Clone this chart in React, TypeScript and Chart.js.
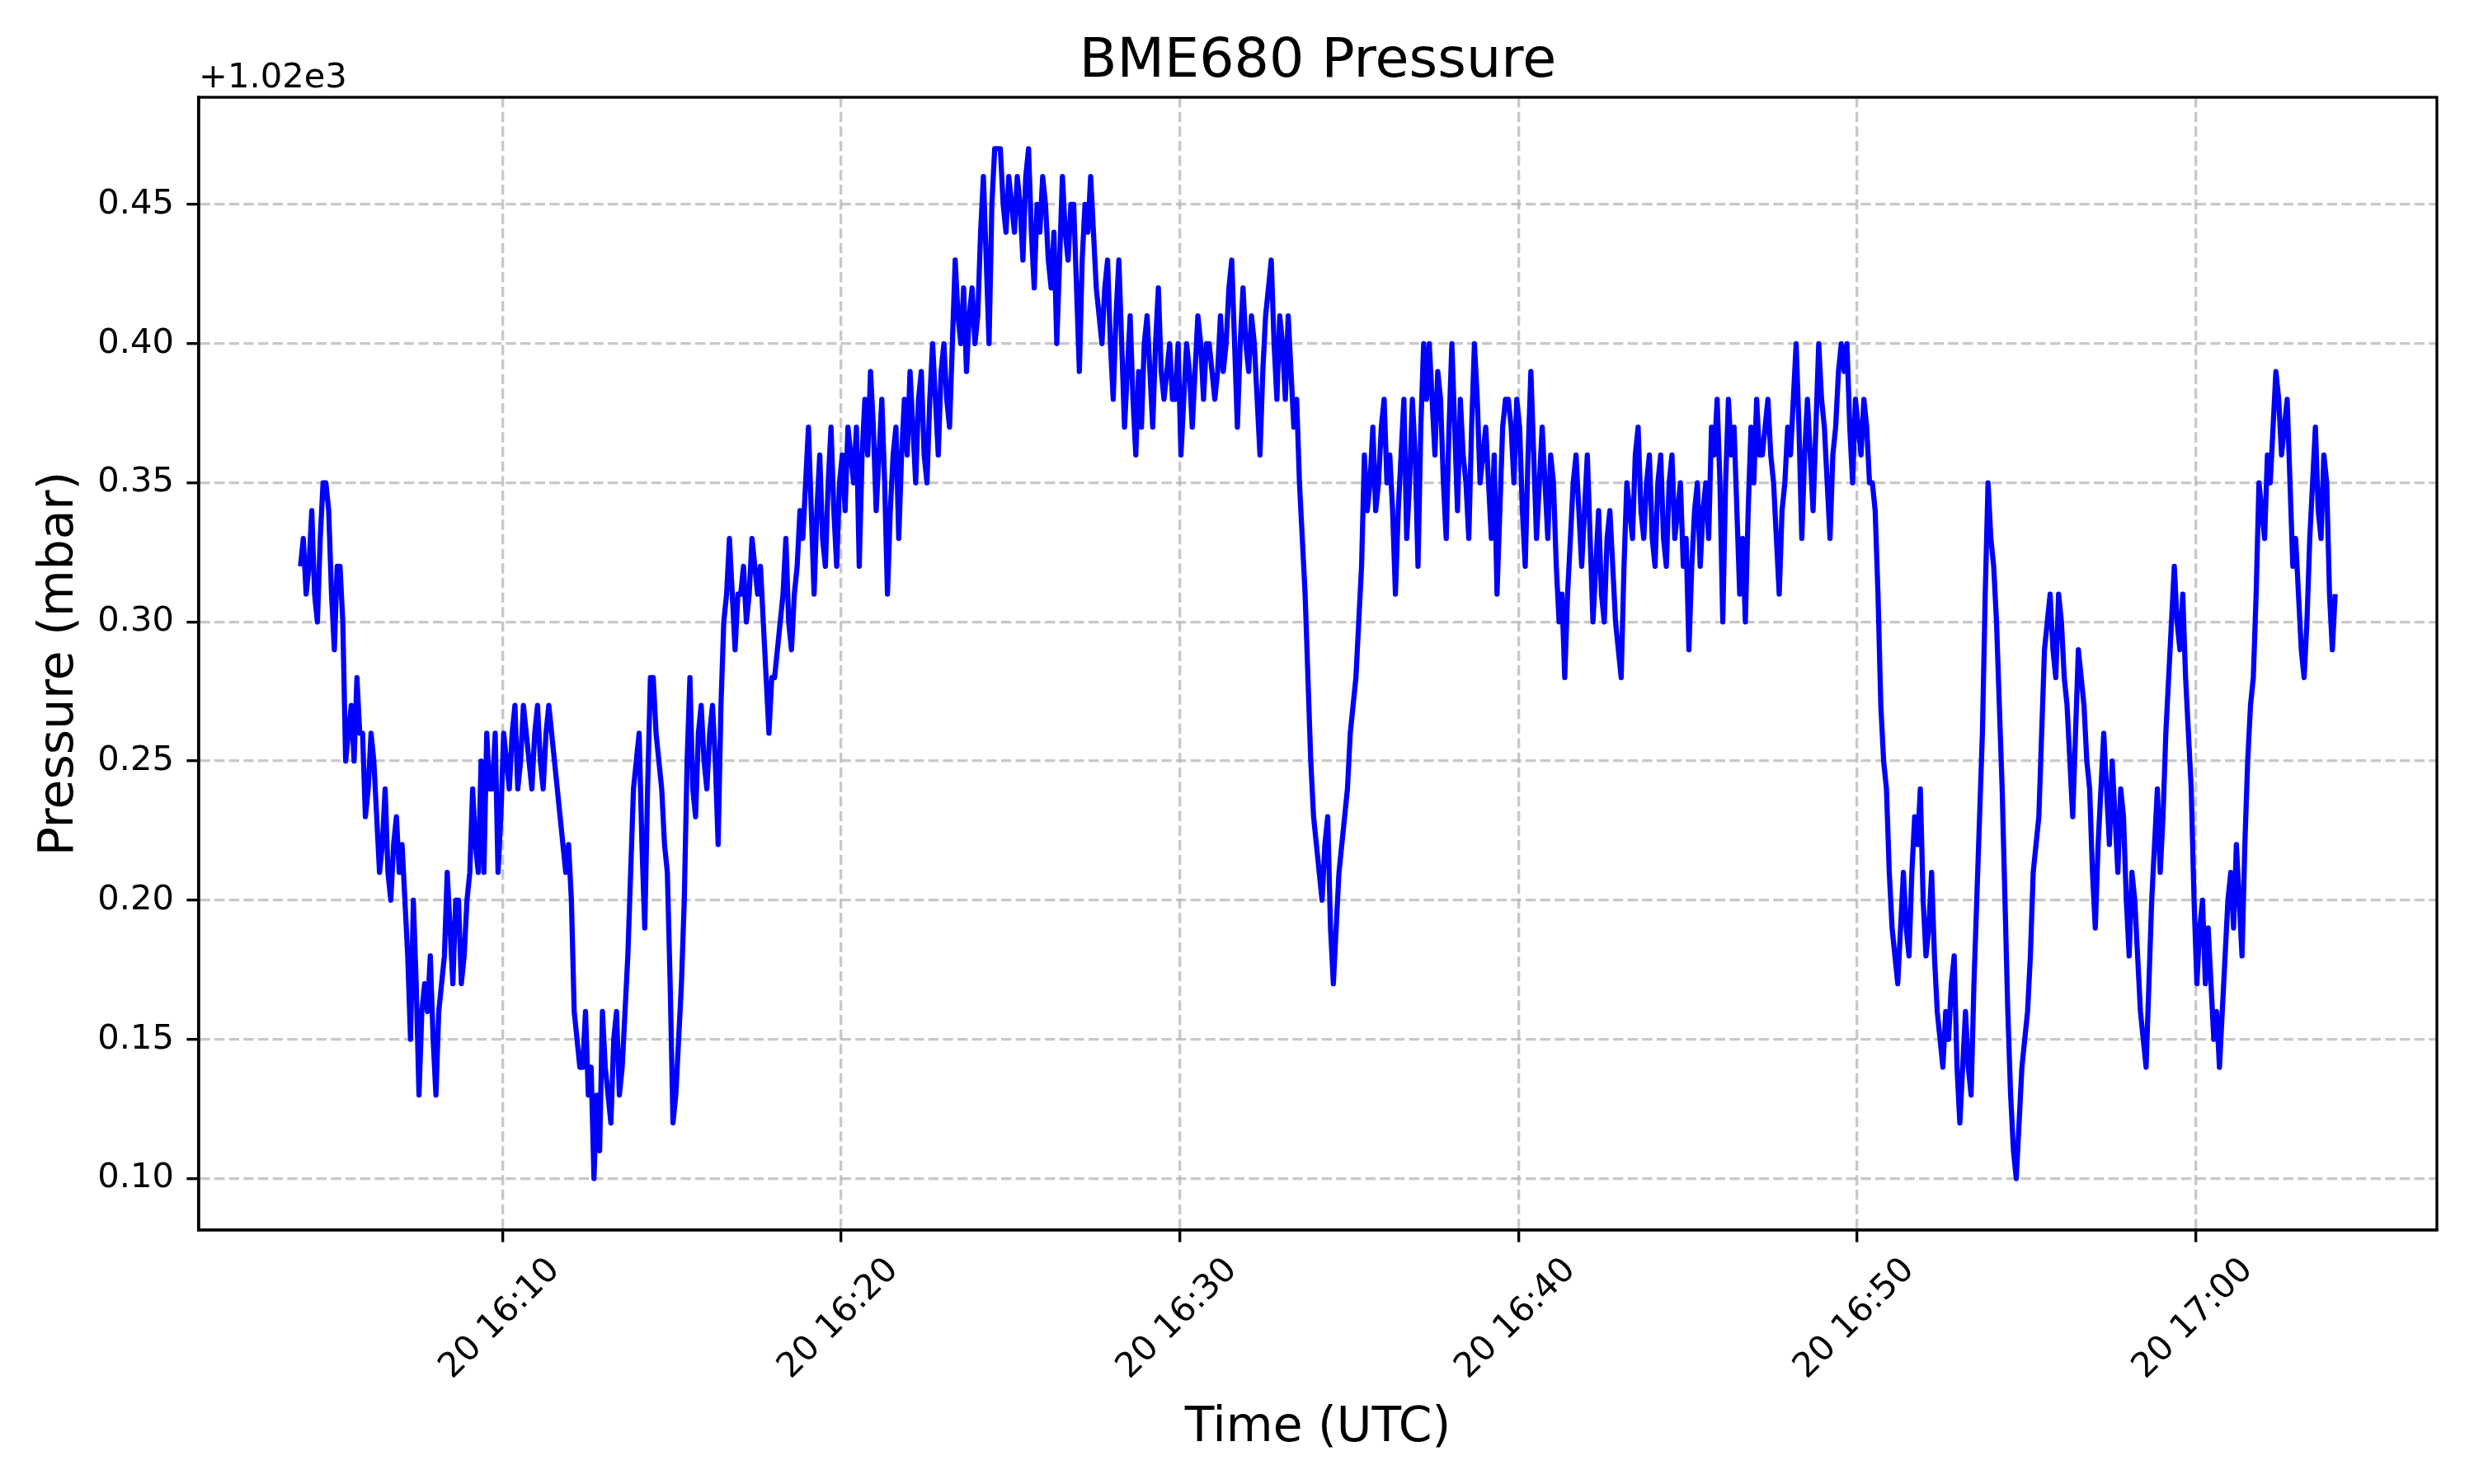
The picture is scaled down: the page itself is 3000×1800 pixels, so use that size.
import { useEffect, useRef } from 'react';
import { Chart, registerables } from 'chart.js';

Chart.register(...registerables);

// BME680 pressure, one reading every 5 s starting 16:04:02 UTC on the 20th.
// Stored as hundredths of a mbar above 1020 mbar (sensor resolution is 0.01).
const pressureHundredths = [
  // 16:04 - 16:13
  32, 33, 31, 32, 34, 31, 30, 33, 35, 35, 34, 31, 29, 32, 32, 30, 25, 26, 27, 25,
  28, 26, 26, 23, 24, 26, 25, 23, 21, 22, 24, 21, 20, 22, 23, 21, 22, 20, 18, 15,
  20, 17, 13, 16, 17, 16, 18, 15, 13, 16, 17, 18, 21, 19, 17, 20, 20, 17, 18, 20,
  21, 24, 22, 21, 25, 21, 26, 24, 24, 26, 21, 23, 26, 25, 24, 26, 27, 24, 25, 27,
  26, 25, 24, 26, 27, 25, 24, 26, 27, 26, 25, 24, 23, 22, 21, 22, 20, 16, 15, 14,
  14, 16, 13, 14, 10, 13, 11, 16,
  // 16:13 - 16:24
  14, 13, 12, 15, 16, 13, 14, 16, 18, 21, 24, 25, 26, 22, 19, 24, 28, 28, 26, 25,
  24, 22, 21, 17, 12, 13, 15, 17, 20, 25, 28, 24, 23, 26, 27, 25, 24, 26, 27, 25,
  22, 27, 30, 31, 33, 31, 29, 31, 31, 32, 30, 31, 33, 32, 31, 32, 30, 28, 26, 28,
  28, 29, 30, 31, 33, 30, 29, 31, 32, 34, 33, 35, 37, 34, 31, 34, 36, 33, 32, 35,
  37, 34, 32, 35, 36, 34, 37, 36, 35, 37, 32, 36, 38, 36, 39, 37, 34, 36, 38, 35,
  31, 34, 36, 37, 33, 36, 38, 36, 39, 37, 35, 38, 39, 36, 35, 38, 40, 38, 36, 39,
  40, 38, 37, 40, 43, 41, 40, 42, 39, 41, 42, 40, 41, 44, 46, 43, 40, 45,
  // 16:24 - 16:35
  47, 47, 47, 45, 44, 46, 45, 44, 46, 45, 43, 46, 47, 44, 42, 45, 44, 46, 45, 43,
  42, 44, 40, 43, 46, 44, 43, 45, 45, 42, 39, 43, 45, 44, 46, 44, 42, 41, 40, 42,
  43, 40, 38, 41, 43, 40, 37, 39, 41, 38, 36, 39, 37, 40, 41, 39, 37, 40, 42, 39,
  38, 39, 40, 38, 38, 40, 36, 38, 40, 39, 37, 39, 41, 40, 38, 40, 40, 39, 38, 39,
  41, 39, 40, 42, 43, 40, 37, 40, 42, 40, 39, 41, 40, 38, 36, 39, 41, 42, 43, 40,
  38, 41, 40, 38, 41, 39, 37, 38, 35, 33, 31, 28, 25, 23, 22, 21, 20, 22, 23, 19,
  17, 19, 21, 22, 23, 24, 26, 27, 28, 30,
  // 16:35 - 16:46
  32, 36, 34, 35, 37, 34, 35, 37, 38, 35, 36, 34, 31, 34, 36, 38, 33, 35, 38, 36,
  32, 37, 40, 38, 40, 38, 36, 39, 38, 35, 33, 37, 40, 37, 34, 38, 36, 35, 33, 37,
  40, 38, 35, 36, 37, 35, 33, 36, 31, 34, 37, 38, 38, 37, 35, 38, 37, 34, 32, 36,
  39, 36, 33, 35, 37, 35, 33, 36, 35, 32, 30, 31, 28, 31, 33, 35, 36, 34, 32, 34,
  36, 33, 30, 32, 34, 31, 30, 33, 34, 32, 30, 29, 28, 32, 35, 34, 33, 36, 37, 34,
  33, 35, 36, 33, 32, 35, 36, 33, 32, 35, 36, 33, 34, 35, 32, 33, 29, 32, 34, 35,
  32, 34, 35, 33, 37, 36, 38, 35, 30, 35, 38, 36,
  // 16:46 - 16:57
  37, 34, 31, 33, 30, 34, 37, 35, 38, 36, 36, 37, 38, 36, 35, 33, 31, 34, 35, 37,
  36, 38, 40, 37, 33, 36, 38, 36, 34, 37, 40, 38, 37, 35, 33, 36, 37, 39, 40, 39,
  40, 37, 35, 38, 37, 36, 38, 37, 35, 35, 34, 31, 27, 25, 24, 21, 19, 18, 17, 19,
  21, 19, 18, 21, 23, 22, 24, 20, 18, 19, 21, 18, 16, 15, 14, 16, 15, 17, 18, 14,
  12, 14, 16, 14, 13, 17, 20, 23, 26, 31, 35, 33, 32, 30, 27, 24, 20, 16, 13, 11,
  10, 12, 14, 15, 16, 18, 21, 22, 23, 26, 29, 30, 31, 29, 28, 31, 30, 28, 27, 25,
  23, 26, 29, 28, 27, 25, 24, 21, 19, 22, 24, 26,
  // 16:57 - 17:04
  24, 22, 25, 23, 21, 24, 23, 20, 18, 21, 20, 18, 16, 15, 14, 17, 20, 22, 24, 21,
  23, 26, 28, 30, 32, 30, 29, 31, 28, 26, 24, 20, 17, 19, 20, 17, 19, 17, 15, 16,
  14, 16, 18, 20, 21, 19, 22, 20, 18, 22, 25, 27, 28, 31, 35, 34, 33, 36, 35, 37,
  39, 38, 36, 37, 38, 35, 32, 33, 31, 29, 28, 30, 33, 35, 37, 34, 33, 36, 35, 31,
  29, 31,
];
const pressureBase = 1020;
const startMinute = 4 + 2 / 60; // minutes after 16:00
const stepMinutes = 5 / 60;

const xTickMinutes = [10, 20, 30, 40, 50, 60];
const xTickLabels = ['20 16:10', '20 16:20', '20 16:30', '20 16:40', '20 16:50', '20 17:00'];
const yTickValues = [0.1, 0.15, 0.2, 0.25, 0.3, 0.35, 0.4, 0.45];
const offsetLabel = '+1.02e3';

const FONT = '"DejaVu Sans", "Liberation Sans", sans-serif';
const PT = 300 / 72; // figure was 300 dpi
const gridColor = 'rgba(176,176,176,0.7)';

const textPlugin = {
  id: 'mplText',
  afterDraw(chart: any) {
    const { ctx, chartArea: a, scales } = chart;
    ctx.save();
    // spines all round
    ctx.strokeStyle = '#000';
    ctx.lineWidth = 0.8 * PT;
    ctx.setLineDash([]);
    ctx.strokeRect(a.left, a.top, a.right - a.left, a.bottom - a.top);

    ctx.fillStyle = '#000';
    ctx.textBaseline = 'alphabetic';

    ctx.font = `${16 * PT}px ${FONT}`;
    ctx.textAlign = 'center';
    ctx.fillText('BME680 Pressure', (a.left + a.right) / 2, a.top - 6 * PT);

    ctx.font = `${10 * PT}px ${FONT}`;
    ctx.textAlign = 'left';
    ctx.fillText(offsetLabel, a.left, a.top - 12);

    // rotated date labels, centred under each tick like matplotlib
    xTickMinutes.forEach((m, i) => {
      const x = scales.x.getPixelForValue(m);
      ctx.save();
      ctx.translate(x - 3, a.bottom + 108);
      ctx.rotate(-Math.PI / 4);
      ctx.textAlign = 'center';
      ctx.textBaseline = 'middle';
      ctx.fillText(xTickLabels[i], 0, 0);
      ctx.restore();
    });

    ctx.font = `${14 * PT}px ${FONT}`;
    ctx.textAlign = 'center';
    ctx.fillText('Time (UTC)', (a.left + a.right) / 2, 1748);

    ctx.save();
    ctx.translate(88, (a.top + a.bottom) / 2);
    ctx.rotate(-Math.PI / 2);
    ctx.fillText('Pressure (mbar)', 0, 0);
    ctx.restore();

    ctx.restore();
  },
};

export default function App() {
  const canvasRef = useRef<HTMLCanvasElement>(null);

  useEffect(() => {
    if (!canvasRef.current) return;

    const points = pressureHundredths.map((h, i) => ({
      x: startMinute + i * stepMinutes,
      y: pressureBase + h / 100,
    }));
    const xs = points.map((p) => p.x);
    const ys = points.map((p) => p.y);
    const xMin = Math.min(...xs), xMax = Math.max(...xs);
    const yMin = Math.min(...ys), yMax = Math.max(...ys);
    const xPad = (xMax - xMin) * 0.05;
    const yPad = (yMax - yMin) * 0.05;

    const grid = {
      color: gridColor,
      lineWidth: 0.8 * PT,
      drawTicks: true,
      tickLength: 3.5 * PT,
      tickWidth: 0.8 * PT,
      tickColor: '#000',
      tickBorderDash: [],
    };
    const border = { display: true, color: '#000', width: 0.8 * PT, dash: [2.96 * PT, 1.28 * PT] };

    const chart = new Chart(canvasRef.current, {
      type: 'line',
      data: {
        datasets: [
          {
            data: points,
            borderColor: '#0000ff',
            borderWidth: 1.5 * PT,
            borderJoinStyle: 'round',
            pointRadius: 0,
            tension: 0,
            fill: false,
          },
        ],
      },
      options: {
        animation: false,
        responsive: false,
        devicePixelRatio: 1,
        layout: { padding: { top: 118, right: 45, left: 0, bottom: 0 } },
        plugins: {
          legend: { display: false },
          title: { display: false },
          tooltip: { enabled: false },
        },
        scales: {
          x: {
            type: 'linear',
            min: xMin - xPad,
            max: xMax + xPad,
            afterBuildTicks: (s: any) => {
              s.ticks = xTickMinutes.map((v) => ({ value: v }));
            },
            afterFit: (s: any) => {
              s.height = 1800 - 1492;
            },
            ticks: { display: false },
            grid,
            border,
          },
          y: {
            type: 'linear',
            min: yMin - yPad,
            max: yMax + yPad,
            afterBuildTicks: (s: any) => {
              s.ticks = yTickValues.map((v) => ({ value: pressureBase + v }));
            },
            afterFit: (s: any) => {
              s.width = 241;
            },
            ticks: {
              color: '#000',
              padding: 15.4,
              font: { family: FONT, size: 10 * PT },
              callback: (v: any) => (Number(v) - pressureBase).toFixed(2),
            },
            grid,
            border,
          },
        },
      },
      plugins: [textPlugin],
    } as any);

    return () => chart.destroy();
  }, []);

  return (
    <div style={{ position: 'absolute', left: 0, top: 0, width: 3000, height: 1800, background: '#fff' }}>
      <canvas ref={canvasRef} width={3000} height={1800} style={{ display: 'block', width: 3000, height: 1800 }} />
    </div>
  );
}
